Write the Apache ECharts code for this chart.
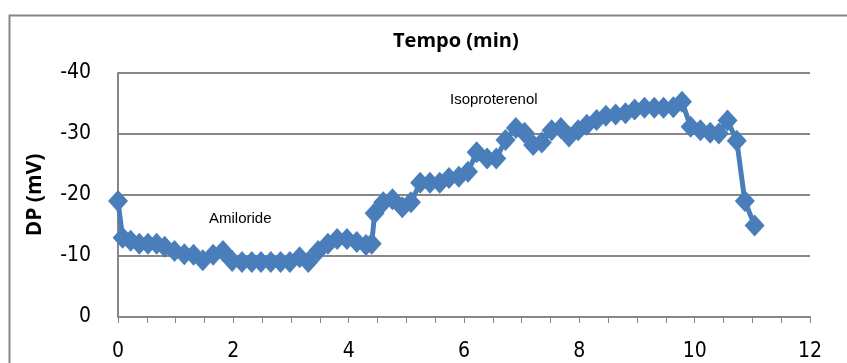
<!DOCTYPE html>
<html>
<head>
<meta charset="utf-8">
<script src="https://cdn.jsdelivr.net/npm/echarts@6/dist/echarts.min.js"></script>
<style>
  html, body { margin: 0; padding: 0; background: #fff; }
  #chart { width: 847px; height: 363px; }
</style>
</head>
<body>
<div id="chart"></div>
<script>
// time (min) and DP (mV)
const tempo = [0, 0.08, 0.22, 0.37, 0.52, 0.67, 0.81, 0.98, 1.15, 1.31, 1.47, 1.65, 1.82, 1.98,
  2.15, 2.32, 2.48, 2.65, 2.82, 2.98, 3.15, 3.3, 3.47, 3.64, 3.8, 3.97, 4.14, 4.3, 4.4, 4.45,
  4.6, 4.76, 4.93, 5.08, 5.24, 5.41, 5.58, 5.74, 5.91, 6.07, 6.22, 6.4, 6.56, 6.72, 6.9, 7.05,
  7.2, 7.35, 7.52, 7.68, 7.82, 7.98, 8.13, 8.3, 8.46, 8.63, 8.8, 8.96, 9.13, 9.3, 9.46, 9.63,
  9.78, 9.93, 10.1, 10.27, 10.42, 10.57, 10.73, 10.87, 11.04]
const dp = [-19, -13, -12.5, -12, -12, -12, -11.5, -10.8, -10.3, -10.2, -9.3, -10.2, -10.8, -9.2,
  -9, -9, -9, -9, -9, -9, -9.8, -9, -10.8, -12, -12.8, -12.8, -12.3, -11.8, -12, -17,
  -18.8, -19.3, -18, -18.8, -22, -22, -22, -22.8, -23, -23.8, -27, -26, -26, -29, -31, -30.2,
  -28.2, -28.6, -30.6, -31, -29.6, -30.6, -31.5, -32.3, -33, -33.2, -33.4, -34, -34.3, -34.3, -34.3, -34.4,
  -35.3, -31.2, -30.6, -30.2, -30.1, -32.2, -28.9, -19, -15]
const yTicks = [-40, -30, -20, -10, 0]
const xTicks = [0, 2, 4, 6, 8, 10, 12]

let chart = echarts.init(document.getElementById('chart'))
let points = []
for (let i = 0; i < tempo.length; i++) {
  points.push([tempo[i], dp[i]])
}

const blue = '#4A7EBB'
const grey = '#868686'
const narrow = "'Liberation Sans Narrow', 'DejaVu Sans Condensed', sans-serif"

chart.setOption({
  animation: false,
  title: {
    text: 'Tempo (min)',
    left: 388,
    top: 26,
    textStyle: { fontFamily: "'Open Sans', sans-serif", fontWeight: 'bold', fontSize: 20, color: '#000' }
  },
  grid: { left: 118, right: 37, top: 73, bottom: 46 },
  xAxis: {
    type: 'value',
    min: xTicks[0],
    max: xTicks[xTicks.length - 1],
    interval: 2,
    axisLine: { onZero: false, lineStyle: { color: grey, width: 2 } },
    axisTick: { show: true, length: 6, lineStyle: { color: grey } },
    minorTick: { show: true, splitNumber: 4, length: 6, lineStyle: { color: grey } },
    splitLine: { show: false },
    axisLabel: { fontFamily: narrow, fontSize: 21, color: '#000', margin: 24 }
  },
  yAxis: {
    type: 'value',
    inverse: true,
    min: yTicks[0],
    max: yTicks[yTicks.length - 1],
    interval: 10,
    name: 'DP (mV)',
    nameLocation: 'middle',
    nameGap: 72,
    nameTextStyle: { fontFamily: "'Open Sans', sans-serif", fontWeight: 'bold', fontSize: 21, color: '#000' },
    axisLine: { show: true, lineStyle: { color: grey, width: 2 } },
    axisTick: { show: false },
    splitLine: { lineStyle: { color: grey, width: 2 } },
    axisLabel: { fontFamily: narrow, fontSize: 21, color: '#000', margin: 27 }
  },
  graphic: [
    {
      type: 'rect',
      left: 7, top: 13,
      shape: { width: 860, height: 370 },
      style: { fill: 'none', stroke: grey, lineWidth: 2 },
      silent: true
    },
    {
      type: 'text', left: 209, top: 211,
      style: { text: 'Amiloride', fontFamily: "'Liberation Sans', Arial, sans-serif", fontSize: 15, fill: '#000' }
    },
    {
      type: 'text', left: 450, top: 92,
      style: { text: 'Isoproterenol', fontFamily: "'Liberation Sans', Arial, sans-serif", fontSize: 15, fill: '#000' }
    }
  ],
  series: [
    {
      type: 'line',
      data: points,
      symbol: 'diamond',
      symbolSize: [20, 22],
      showAllSymbol: true,
      itemStyle: { color: blue },
      lineStyle: { color: blue, width: 5 }
    }
  ]
})
</script>
</body>
</html>
